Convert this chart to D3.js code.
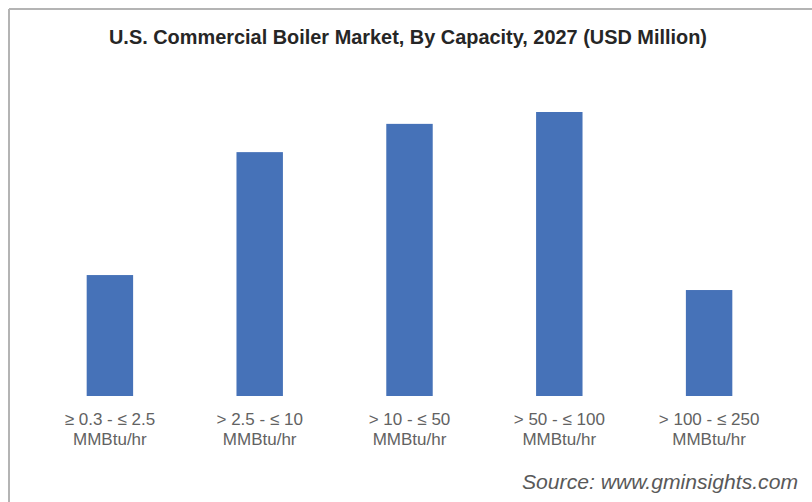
<!DOCTYPE html>
<html>
<head>
<meta charset="utf-8">
<script src="https://cdn.jsdelivr.net/npm/d3@7"></script>
<style>
  body { margin: 0; background: #fff; }
  svg { display: block; font-family: "Liberation Sans", Arial, sans-serif; }
</style>
</head>
<body>
<svg id="chart" width="812" height="502"></svg>
<script>
"use strict"

// data (USD Million, estimated - no axis shown)
const capacityLine1 = ["\u2265 0.3 - \u2264 2.5", "> 2.5 - \u2264 10", "> 10 - \u2264 50", "> 50 - \u2264 100", "> 100 - \u2264 250"];
const capacityLine2 = ["MMBtu/hr", "MMBtu/hr", "MMBtu/hr", "MMBtu/hr", "MMBtu/hr"];
const marketValues  = [428, 863, 963, 1005, 375];

const svg = d3.select("#chart");

// frame lines (top and left only, as in the picture)
svg.append("line")
  .attr("x1", 9).attr("y1", 9).attr("x2", 812).attr("y2", 9)
  .attr("stroke", "#b4b4b4").attr("stroke-width", 2);
svg.append("line")
  .attr("x1", 9).attr("y1", 9).attr("x2", 9).attr("y2", 502)
  .attr("stroke", "#b4b4b4").attr("stroke-width", 2);

// title
svg.append("text")
  .attr("x", 408)
  .attr("y", 44)
  .attr("text-anchor", "middle")
  .attr("textLength", 598)
  .attr("lengthAdjust", "spacingAndGlyphs")
  .style("font-size", "21px")
  .style("font-weight", "bold")
  .style("fill", "#262626")
  .text("U.S. Commercial Boiler Market, By Capacity, 2027 (USD Million)");

// scales
const x = d3.scaleBand()
  .domain(capacityLine1)
  .range([35, 784])
  .paddingInner(0.69)
  .paddingOuter(0.345);

const y = d3.scaleLinear()
  .domain([0, 1100])
  .range([396, 396 - 284 * 1100 / 1005]);

// bars
svg.selectAll(".bar")
  .data(marketValues)
  .enter().append("rect")
    .attr("class", "bar")
    .attr("x", (d, i) => x(capacityLine1[i]))
    .attr("y", d => y(d))
    .attr("width", x.bandwidth())
    .attr("height", d => y(0) - y(d))
    .attr("fill", "#4672b8");

// category labels (two lines)
const labels = svg.selectAll(".cat")
  .data(capacityLine1)
  .enter().append("text")
    .attr("class", "cat")
    .attr("text-anchor", "middle")
    .style("font-size", "17px")
    .style("fill", "#626262");

labels.append("tspan")
  .attr("x", d => x(d) + x.bandwidth() / 2)
  .attr("y", 425)
  .text(d => d);

labels.append("tspan")
  .attr("x", d => x(d) + x.bandwidth() / 2)
  .attr("y", 445)
  .text((d, i) => capacityLine2[i]);

// source note
svg.append("text")
  .attr("x", 522)
  .attr("y", 489)
  .attr("textLength", 276)
  .attr("lengthAdjust", "spacingAndGlyphs")
  .style("font-size", "20px")
  .style("font-style", "italic")
  .style("fill", "#595959")
  .text("Source: www.gminsights.com");
</script>
</body>
</html>
